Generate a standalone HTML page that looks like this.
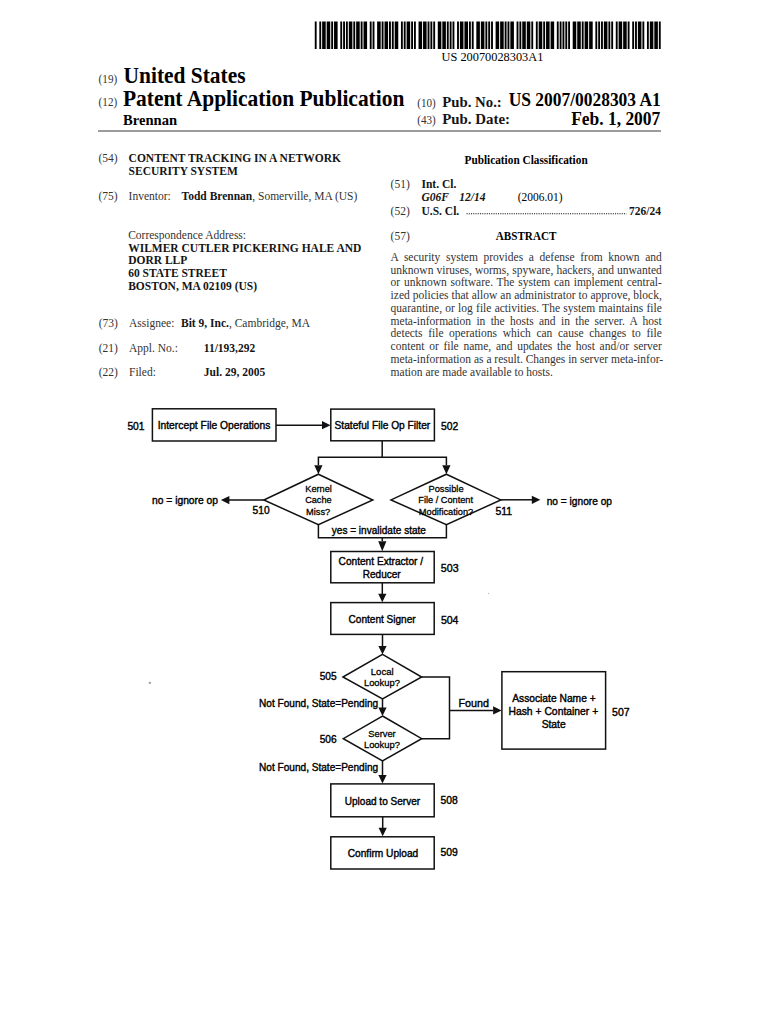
<!DOCTYPE html>
<html><head><meta charset="utf-8"><title>US 2007/0028303 A1</title>
<style>
html,body{margin:0;padding:0;background:#fff;}
body{width:770px;height:1024px;position:relative;overflow:hidden;}
svg{position:absolute;left:0;top:0;}
.al{position:absolute;left:390.6px;width:271.2px;font-family:"Liberation Serif",serif;font-size:11.5px;line-height:14px;white-space:nowrap;text-align:justify;text-align-last:justify;color:#333;}
.al.last{text-align:left;text-align-last:left;}
</style></head><body>
<svg width="770" height="1024" viewBox="0 0 770 1024">
<path d="M314.77,21.5h1.87v27.5h-1.87zM319.31,21.5h1.87v27.5h-1.87zM322.14,21.5h3.57v27.5h-3.57zM326.68,21.5h3.57v27.5h-3.57zM331.21,21.5h1.87v27.5h-1.87zM334.05,21.5h3.57v27.5h-3.57zM340.28,21.5h1.87v27.5h-1.87zM343.12,21.5h1.87v27.5h-1.87zM345.95,21.5h1.87v27.5h-1.87zM348.79,21.5h3.57v27.5h-3.57zM353.32,21.5h1.87v27.5h-1.87zM356.16,21.5h3.57v27.5h-3.57zM360.69,21.5h1.87v27.5h-1.87zM363.52,21.5h3.57v27.5h-3.57zM369.76,21.5h1.87v27.5h-1.87zM372.59,21.5h1.87v27.5h-1.87zM377.13,21.5h3.57v27.5h-3.57zM381.66,21.5h1.87v27.5h-1.87zM384.50,21.5h3.57v27.5h-3.57zM389.03,21.5h1.87v27.5h-1.87zM391.87,21.5h1.87v27.5h-1.87zM394.70,21.5h3.57v27.5h-3.57zM400.94,21.5h1.87v27.5h-1.87zM403.77,21.5h1.87v27.5h-1.87zM406.61,21.5h3.57v27.5h-3.57zM411.14,21.5h1.87v27.5h-1.87zM413.98,21.5h1.87v27.5h-1.87zM418.51,21.5h3.57v27.5h-3.57zM423.04,21.5h3.57v27.5h-3.57zM427.58,21.5h1.87v27.5h-1.87zM430.41,21.5h1.87v27.5h-1.87zM433.25,21.5h1.87v27.5h-1.87zM437.78,21.5h3.57v27.5h-3.57zM442.32,21.5h3.57v27.5h-3.57zM446.85,21.5h1.87v27.5h-1.87zM449.69,21.5h1.87v27.5h-1.87zM452.52,21.5h1.87v27.5h-1.87zM457.06,21.5h1.87v27.5h-1.87zM459.89,21.5h3.57v27.5h-3.57zM464.43,21.5h3.57v27.5h-3.57zM468.96,21.5h1.87v27.5h-1.87zM471.79,21.5h1.87v27.5h-1.87zM476.33,21.5h3.57v27.5h-3.57zM480.86,21.5h3.57v27.5h-3.57zM485.40,21.5h1.87v27.5h-1.87zM488.23,21.5h1.87v27.5h-1.87zM491.07,21.5h1.87v27.5h-1.87zM495.60,21.5h3.57v27.5h-3.57zM500.14,21.5h3.57v27.5h-3.57zM504.67,21.5h1.87v27.5h-1.87zM507.51,21.5h1.87v27.5h-1.87zM510.34,21.5h3.57v27.5h-3.57zM516.58,21.5h1.87v27.5h-1.87zM519.41,21.5h1.87v27.5h-1.87zM522.25,21.5h3.57v27.5h-3.57zM526.78,21.5h3.57v27.5h-3.57zM531.31,21.5h1.87v27.5h-1.87zM535.85,21.5h1.87v27.5h-1.87zM538.68,21.5h3.57v27.5h-3.57zM543.22,21.5h1.87v27.5h-1.87zM546.05,21.5h3.57v27.5h-3.57zM550.59,21.5h3.57v27.5h-3.57zM556.82,21.5h1.87v27.5h-1.87zM559.66,21.5h1.87v27.5h-1.87zM562.49,21.5h1.87v27.5h-1.87zM565.33,21.5h1.87v27.5h-1.87zM568.16,21.5h1.87v27.5h-1.87zM572.70,21.5h3.57v27.5h-3.57zM577.23,21.5h3.57v27.5h-3.57zM581.77,21.5h1.87v27.5h-1.87zM584.60,21.5h3.57v27.5h-3.57zM589.13,21.5h3.57v27.5h-3.57zM595.37,21.5h1.87v27.5h-1.87zM598.20,21.5h1.87v27.5h-1.87zM601.04,21.5h1.87v27.5h-1.87zM603.87,21.5h3.57v27.5h-3.57zM608.41,21.5h1.87v27.5h-1.87zM611.24,21.5h1.87v27.5h-1.87zM615.78,21.5h1.87v27.5h-1.87zM618.61,21.5h3.57v27.5h-3.57zM623.15,21.5h3.57v27.5h-3.57zM627.68,21.5h1.87v27.5h-1.87zM632.22,21.5h1.87v27.5h-1.87zM635.05,21.5h1.87v27.5h-1.87zM637.88,21.5h3.57v27.5h-3.57zM642.42,21.5h1.87v27.5h-1.87zM646.95,21.5h1.87v27.5h-1.87zM649.79,21.5h3.57v27.5h-3.57zM654.32,21.5h3.57v27.5h-3.57zM658.86,21.5h1.87v27.5h-1.87z" fill="#000"/>
<text x="441.55" y="60.6" font-size="12.8" font-family='"Liberation Serif", serif' textLength="101.79" lengthAdjust="spacingAndGlyphs">US 20070028303A1</text>
<text x="98.6" y="83.3" font-size="11.5" font-family='"Liberation Serif", serif' textLength="18.6" lengthAdjust="spacingAndGlyphs" fill="#333">(19)</text>
<text x="123.56" y="82.9" font-size="22.2" font-family='"Liberation Serif", serif' font-weight="bold" textLength="121.96" lengthAdjust="spacingAndGlyphs">United States</text>
<text x="98.6" y="106.4" font-size="11.5" font-family='"Liberation Serif", serif' textLength="18.6" lengthAdjust="spacingAndGlyphs" fill="#333">(12)</text>
<text x="122.92" y="106.4" font-size="22.4" font-family='"Liberation Serif", serif' font-weight="bold" textLength="281.50" lengthAdjust="spacingAndGlyphs">Patent Application Publication</text>
<text x="123.05" y="124.6" font-size="14.9" font-family='"Liberation Serif", serif' font-weight="bold" textLength="53.98" lengthAdjust="spacingAndGlyphs">Brennan</text>
<text x="417.3" y="106.5" font-size="11.5" font-family='"Liberation Serif", serif' textLength="18.5" lengthAdjust="spacingAndGlyphs" fill="#333">(10)</text>
<text x="442.2" y="106.5" font-size="14.8" font-family='"Liberation Serif", serif' font-weight="bold" textLength="59.6" lengthAdjust="spacingAndGlyphs" fill="#151515">Pub. No.:</text>
<text x="508.76" y="106.4" font-size="19" font-family='"Liberation Serif", serif' font-weight="bold" textLength="151.96" lengthAdjust="spacingAndGlyphs">US 2007/0028303 A1</text>
<text x="417.3" y="124.1" font-size="11.5" font-family='"Liberation Serif", serif' textLength="18.5" lengthAdjust="spacingAndGlyphs" fill="#333">(43)</text>
<text x="442.2" y="124.1" font-size="14.8" font-family='"Liberation Serif", serif' font-weight="bold" textLength="67.8" lengthAdjust="spacingAndGlyphs" fill="#151515">Pub. Date:</text>
<text x="571.20" y="124.8" font-size="18.6" font-family='"Liberation Serif", serif' font-weight="bold" textLength="89.06" lengthAdjust="spacingAndGlyphs">Feb. 1, 2007</text>
<rect x="98" y="130" width="563" height="2" fill="#9c9c9c"/>
<text x="98.4" y="162.2" font-size="11.5" font-family='"Liberation Serif", serif' fill="#333">(54)</text>
<text x="128.6" y="162.2" font-size="11.5" font-family='"Liberation Serif", serif' font-weight="bold" fill="#151515">CONTENT TRACKING IN A NETWORK</text>
<text x="128.6" y="174.8" font-size="11.5" font-family='"Liberation Serif", serif' font-weight="bold" fill="#151515">SECURITY SYSTEM</text>
<text x="98.4" y="200.2" font-size="11.5" font-family='"Liberation Serif", serif' fill="#333">(75)</text>
<text x="128.6" y="200.2" font-size="11.5" font-family='"Liberation Serif", serif' fill="#333">Inventor:</text>
<text x="181.6" y="200.2" font-size="11.5" font-family='"Liberation Serif", serif' fill="#333"><tspan font-weight="bold" fill="#151515">Todd Brennan</tspan>, Somerville, MA (US)</text>
<text x="128.2" y="238.9" font-size="11.5" font-family='"Liberation Serif", serif' fill="#333">Correspondence Address:</text>
<text x="128.2" y="251.6" font-size="11.5" font-family='"Liberation Serif", serif' font-weight="bold" fill="#151515">WILMER CUTLER PICKERING HALE AND</text>
<text x="128.2" y="264.1" font-size="11.5" font-family='"Liberation Serif", serif' font-weight="bold" fill="#151515">DORR LLP</text>
<text x="128.2" y="277.0" font-size="11.5" font-family='"Liberation Serif", serif' font-weight="bold" fill="#151515">60 STATE STREET</text>
<text x="128.2" y="289.8" font-size="11.5" font-family='"Liberation Serif", serif' font-weight="bold" fill="#151515">BOSTON, MA 02109 (US)</text>
<text x="98.7" y="327.1" font-size="11.5" font-family='"Liberation Serif", serif' fill="#333">(73)</text>
<text x="129" y="327.1" font-size="11.5" font-family='"Liberation Serif", serif' fill="#333">Assignee:</text>
<text x="181" y="327.1" font-size="11.5" font-family='"Liberation Serif", serif' fill="#333"><tspan font-weight="bold" fill="#151515">Bit 9, Inc.</tspan>, Cambridge, MA</text>
<text x="98.7" y="352.1" font-size="11.5" font-family='"Liberation Serif", serif' fill="#333">(21)</text>
<text x="129" y="352.1" font-size="11.5" font-family='"Liberation Serif", serif' fill="#333">Appl. No.:</text>
<text x="203.8" y="352.1" font-size="11.5" font-family='"Liberation Serif", serif' font-weight="bold" fill="#151515">11/193,292</text>
<text x="98.7" y="376.4" font-size="11.5" font-family='"Liberation Serif", serif' fill="#333">(22)</text>
<text x="129" y="376.4" font-size="11.5" font-family='"Liberation Serif", serif' fill="#333">Filed:</text>
<text x="203.8" y="376.4" font-size="11.5" font-family='"Liberation Serif", serif' font-weight="bold" fill="#151515">Jul. 29, 2005</text>
<text x="464.50" y="163.8" font-size="11.5" font-family='"Liberation Serif", serif' font-weight="bold" textLength="123.17" lengthAdjust="spacingAndGlyphs">Publication Classification</text>
<text x="390.6" y="188.3" font-size="11.5" font-family='"Liberation Serif", serif' fill="#333">(51)</text>
<text x="421.5" y="188.2" font-size="11.5" font-family='"Liberation Serif", serif' font-weight="bold" fill="#151515">Int. Cl.</text>
<text x="421.5" y="200.8" font-size="11.5" font-family='"Liberation Serif", serif' font-weight="bold" font-style="italic" fill="#151515">G06F</text>
<text x="459.2" y="200.8" font-size="11.5" font-family='"Liberation Serif", serif' font-weight="bold" font-style="italic" fill="#151515">12/14</text>
<text x="517.79" y="200.8" font-size="11.5" font-family='"Liberation Serif", serif' textLength="44.81" lengthAdjust="spacingAndGlyphs">(2006.01)</text>
<text x="390.6" y="214.9" font-size="11.5" font-family='"Liberation Serif", serif' fill="#333">(52)</text>
<text x="421.5" y="214.9" font-size="11.5" font-family='"Liberation Serif", serif' font-weight="bold" fill="#151515">U.S. Cl.</text>
<path d="M466.5,213.8 H626.5" stroke="#111" stroke-width="1.1" stroke-dasharray="1.1 1.15" fill="none"/>
<text x="661" y="214.9" font-size="11.5" font-family='"Liberation Serif", serif' font-weight="bold" text-anchor="end" fill="#151515">726/24</text>
<text x="390.6" y="240" font-size="11.5" font-family='"Liberation Serif", serif' fill="#333">(57)</text>
<text x="495.79" y="240" font-size="11.5" font-family='"Liberation Serif", serif' font-weight="bold" textLength="60.66" lengthAdjust="spacingAndGlyphs">ABSTRACT</text>
<rect x="148.8" y="681.8" width="2" height="2" fill="#999"/>
<rect x="487.9" y="592.9" width="1.2" height="1.2" fill="#bbb"/>
<rect x="152.4" y="408.8" width="123.6" height="32.19999999999999" fill="none" stroke="#111" stroke-width="1.5"/>
<text x="127.39" y="429.9" font-size="10.8" font-family='"Liberation Sans", sans-serif' textLength="17.11" lengthAdjust="spacingAndGlyphs" stroke="#000" stroke-width="0.4">501</text>
<text x="157.65" y="429.0" font-size="10.8" font-family='"Liberation Sans", sans-serif' textLength="112.81" lengthAdjust="spacingAndGlyphs" stroke="#000" stroke-width="0.4">Intercept File Operations</text>
<path d="M276,425.2 L323,425.2" fill="none" stroke="#111" stroke-width="1.5"/>
<path d="M330.5,425.2 L322.0,421.09999999999997 L322.0,429.3 Z" fill="#111" stroke="none"/>
<rect x="330.8" y="409.1" width="103.59999999999997" height="31.69999999999999" fill="none" stroke="#111" stroke-width="1.5"/>
<text x="334.54" y="429.2" font-size="10.8" font-family='"Liberation Sans", sans-serif' textLength="95.71" lengthAdjust="spacingAndGlyphs" stroke="#000" stroke-width="0.4">Stateful File Op Filter</text>
<text x="440.99" y="429.9" font-size="10.8" font-family='"Liberation Sans", sans-serif' textLength="17.24" lengthAdjust="spacingAndGlyphs" stroke="#000" stroke-width="0.4">502</text>
<path d="M382.2,441 L382.2,457" fill="none" stroke="#111" stroke-width="1.5"/>
<path d="M318.4,465 L318.4,457.3 L446.4,457.3 L446.4,465" fill="none" stroke="#111" stroke-width="1.5"/>
<path d="M318.4,474.2 L314.29999999999995,465.2 L322.5,465.2 Z" fill="#111" stroke="none"/>
<path d="M446.4,474.2 L442.29999999999995,465.2 L450.5,465.2 Z" fill="#111" stroke="none"/>
<path d="M318.4,474.2 L372.8,500.0 L318.4,524.6 L263.8,500.0 Z" fill="none" stroke="#111" stroke-width="1.5" stroke-linejoin="miter"/>
<text x="305.24" y="491.9" font-size="9.9" font-family='"Liberation Sans", sans-serif' textLength="26.69" lengthAdjust="spacingAndGlyphs" stroke="#000" stroke-width="0.3">Kernel</text>
<text x="305.14" y="503.3" font-size="9.9" font-family='"Liberation Sans", sans-serif' textLength="26.45" lengthAdjust="spacingAndGlyphs" stroke="#000" stroke-width="0.3">Cache</text>
<text x="306.04" y="514.6" font-size="9.9" font-family='"Liberation Sans", sans-serif' textLength="24.20" lengthAdjust="spacingAndGlyphs" stroke="#000" stroke-width="0.3">Miss?</text>
<path d="M263.8,500.1 L229,500.1" fill="none" stroke="#111" stroke-width="1.5"/>
<path d="M220.9,500.1 L229.4,496.0 L229.4,504.20000000000005 Z" fill="#111" stroke="none"/>
<text x="152.01" y="503.5" font-size="10.8" font-family='"Liberation Sans", sans-serif' textLength="66.03" lengthAdjust="spacingAndGlyphs" stroke="#000" stroke-width="0.4">no = ignore op</text>
<text x="252.59" y="514.2" font-size="10.8" font-family='"Liberation Sans", sans-serif' textLength="17.00" lengthAdjust="spacingAndGlyphs" stroke="#000" stroke-width="0.4">510</text>
<path d="M446.4,474.2 L500.8,499.9 L446.4,524.7 L391,499.9 Z" fill="none" stroke="#111" stroke-width="1.5" stroke-linejoin="miter"/>
<text x="428.43" y="491.8" font-size="9.9" font-family='"Liberation Sans", sans-serif' textLength="35.19" lengthAdjust="spacingAndGlyphs" stroke="#000" stroke-width="0.3">Possible</text>
<text x="418.34" y="503.2" font-size="9.9" font-family='"Liberation Sans", sans-serif' textLength="54.63" lengthAdjust="spacingAndGlyphs" stroke="#000" stroke-width="0.3">File / Content</text>
<text x="418.84" y="514.6" font-size="9.9" font-family='"Liberation Sans", sans-serif' textLength="54.41" lengthAdjust="spacingAndGlyphs" stroke="#000" stroke-width="0.3">Modification?</text>
<path d="M500.8,499.8 L532,499.8" fill="none" stroke="#111" stroke-width="1.5"/>
<path d="M540.3,499.8 L531.8,495.7 L531.8,503.90000000000003 Z" fill="#111" stroke="none"/>
<text x="546.71" y="504.9" font-size="10.8" font-family='"Liberation Sans", sans-serif' textLength="65.31" lengthAdjust="spacingAndGlyphs" stroke="#000" stroke-width="0.4">no = ignore op</text>
<text x="495.48" y="514.7" font-size="10.8" font-family='"Liberation Sans", sans-serif' textLength="16.63" lengthAdjust="spacingAndGlyphs" stroke="#000" stroke-width="0.4">511</text>
<path d="M318.4,524.6 L318.4,537.8 L446.4,537.8 L446.4,524.7" fill="none" stroke="#111" stroke-width="1.5"/>
<text x="331.77" y="534.0" font-size="10.8" font-family='"Liberation Sans", sans-serif' textLength="94.17" lengthAdjust="spacingAndGlyphs" stroke="#000" stroke-width="0.4">yes = invalidate state</text>
<path d="M382.3,537.8 L382.3,541" fill="none" stroke="#111" stroke-width="1.5"/>
<path d="M382.3,551.2 L378.2,541.2 L386.40000000000003,541.2 Z" fill="#111" stroke="none"/>
<rect x="330.8" y="551.5" width="103.39999999999998" height="31.299999999999955" fill="none" stroke="#111" stroke-width="1.5"/>
<text x="338.59" y="565.1" font-size="10.8" font-family='"Liberation Sans", sans-serif' textLength="84.50" lengthAdjust="spacingAndGlyphs" stroke="#000" stroke-width="0.4">Content Extractor /</text>
<text x="362.77" y="577.5" font-size="10.8" font-family='"Liberation Sans", sans-serif' textLength="37.88" lengthAdjust="spacingAndGlyphs" stroke="#000" stroke-width="0.4">Reducer</text>
<text x="440.87" y="572.4" font-size="10.8" font-family='"Liberation Sans", sans-serif' textLength="17.79" lengthAdjust="spacingAndGlyphs" stroke="#000" stroke-width="0.4">503</text>
<path d="M382.3,582.8 L382.3,594" fill="none" stroke="#111" stroke-width="1.5"/>
<path d="M382.3,602.3 L378.2,593.8 L386.40000000000003,593.8 Z" fill="#111" stroke="none"/>
<rect x="330.8" y="602.6" width="103.39999999999998" height="31.799999999999955" fill="none" stroke="#111" stroke-width="1.5"/>
<text x="348.60" y="622.7" font-size="10.8" font-family='"Liberation Sans", sans-serif' textLength="67.06" lengthAdjust="spacingAndGlyphs" stroke="#000" stroke-width="0.4">Content Signer</text>
<text x="440.88" y="623.6" font-size="10.8" font-family='"Liberation Sans", sans-serif' textLength="17.62" lengthAdjust="spacingAndGlyphs" stroke="#000" stroke-width="0.4">504</text>
<path d="M382.5,634.4 L382.5,646" fill="none" stroke="#111" stroke-width="1.5"/>
<path d="M382.5,654.4 L378.4,645.9 L386.6,645.9 Z" fill="#111" stroke="none"/>
<path d="M382.5,654.4 L421.7,677 L382.5,699 L342.9,677 Z" fill="none" stroke="#111" stroke-width="1.5" stroke-linejoin="miter"/>
<text x="370.81" y="674.7" font-size="9.9" font-family='"Liberation Sans", sans-serif' textLength="22.84" lengthAdjust="spacingAndGlyphs" stroke="#000" stroke-width="0.3">Local</text>
<text x="363.93" y="686.4" font-size="9.9" font-family='"Liberation Sans", sans-serif' textLength="36.02" lengthAdjust="spacingAndGlyphs" stroke="#000" stroke-width="0.3">Lookup?</text>
<text x="319.69" y="680.2" font-size="10.8" font-family='"Liberation Sans", sans-serif' textLength="16.92" lengthAdjust="spacingAndGlyphs" stroke="#000" stroke-width="0.4">505</text>
<path d="M421.7,677 L449.5,677 L449.5,738.7 L421.7,738.7" fill="none" stroke="#111" stroke-width="1.5"/>
<path d="M449.5,710.4 L493,710.4" fill="none" stroke="#111" stroke-width="1.5"/>
<path d="M501.6,710.4 L493.1,706.3 L493.1,714.5 Z" fill="#111" stroke="none"/>
<text x="458.51" y="707.2" font-size="10.8" font-family='"Liberation Sans", sans-serif' textLength="30.46" lengthAdjust="spacingAndGlyphs" stroke="#000" stroke-width="0.4">Found</text>
<rect x="501.9" y="671.7" width="103.70000000000005" height="77.39999999999998" fill="none" stroke="#111" stroke-width="1.5"/>
<text x="512.17" y="701.8" font-size="10.8" font-family='"Liberation Sans", sans-serif' textLength="83.52" lengthAdjust="spacingAndGlyphs" stroke="#000" stroke-width="0.4">Associate Name +</text>
<text x="508.45" y="715.1" font-size="10.8" font-family='"Liberation Sans", sans-serif' textLength="89.77" lengthAdjust="spacingAndGlyphs" stroke="#000" stroke-width="0.4">Hash + Container +</text>
<text x="541.64" y="727.5" font-size="10.8" font-family='"Liberation Sans", sans-serif' textLength="24.10" lengthAdjust="spacingAndGlyphs" stroke="#000" stroke-width="0.4">State</text>
<text x="612.08" y="715.9" font-size="10.8" font-family='"Liberation Sans", sans-serif' textLength="17.45" lengthAdjust="spacingAndGlyphs" stroke="#000" stroke-width="0.4">507</text>
<path d="M382.5,699 L382.5,708" fill="none" stroke="#111" stroke-width="1.5"/>
<path d="M382.5,716 L378.4,707.5 L386.6,707.5 Z" fill="#111" stroke="none"/>
<text x="259.07" y="707.1" font-size="10.8" font-family='"Liberation Sans", sans-serif' textLength="119.08" lengthAdjust="spacingAndGlyphs" stroke="#000" stroke-width="0.4">Not Found, State=Pending</text>
<path d="M382.5,716 L421.7,738.7 L382.5,760.8 L343.3,738.7 Z" fill="none" stroke="#111" stroke-width="1.5" stroke-linejoin="miter"/>
<text x="368.28" y="737.0" font-size="9.9" font-family='"Liberation Sans", sans-serif' textLength="27.46" lengthAdjust="spacingAndGlyphs" stroke="#000" stroke-width="0.3">Server</text>
<text x="363.93" y="748.4" font-size="9.9" font-family='"Liberation Sans", sans-serif' textLength="36.02" lengthAdjust="spacingAndGlyphs" stroke="#000" stroke-width="0.3">Lookup?</text>
<text x="319.69" y="742.5" font-size="10.8" font-family='"Liberation Sans", sans-serif' textLength="16.95" lengthAdjust="spacingAndGlyphs" stroke="#000" stroke-width="0.4">506</text>
<path d="M382.5,760.8 L382.5,775" fill="none" stroke="#111" stroke-width="1.5"/>
<path d="M382.5,783.6 L378.4,775.1 L386.6,775.1 Z" fill="#111" stroke="none"/>
<text x="259.07" y="771.2" font-size="10.8" font-family='"Liberation Sans", sans-serif' textLength="119.08" lengthAdjust="spacingAndGlyphs" stroke="#000" stroke-width="0.4">Not Found, State=Pending</text>
<rect x="330.8" y="783.9" width="103.39999999999998" height="32.89999999999998" fill="none" stroke="#111" stroke-width="1.5"/>
<text x="344.72" y="804.6" font-size="10.8" font-family='"Liberation Sans", sans-serif' textLength="75.45" lengthAdjust="spacingAndGlyphs" stroke="#000" stroke-width="0.4">Upload to Server</text>
<text x="440.49" y="804.1" font-size="10.8" font-family='"Liberation Sans", sans-serif' textLength="17.26" lengthAdjust="spacingAndGlyphs" stroke="#000" stroke-width="0.4">508</text>
<path d="M382.7,816.8 L382.7,828" fill="none" stroke="#111" stroke-width="1.5"/>
<path d="M382.7,836.3 L378.59999999999997,827.8 L386.8,827.8 Z" fill="#111" stroke="none"/>
<rect x="330.8" y="836.8" width="103.39999999999998" height="32.200000000000045" fill="none" stroke="#111" stroke-width="1.5"/>
<text x="347.69" y="857.4" font-size="10.8" font-family='"Liberation Sans", sans-serif' textLength="70.54" lengthAdjust="spacingAndGlyphs" stroke="#000" stroke-width="0.4">Confirm Upload</text>
<text x="440.49" y="856.3" font-size="10.8" font-family='"Liberation Sans", sans-serif' textLength="17.29" lengthAdjust="spacingAndGlyphs" stroke="#000" stroke-width="0.4">509</text>
</svg>
<div class="al" style="top:249.82px">A security system provides a defense from known and</div>
<div class="al" style="top:262.59px">unknown viruses, worms, spyware, hackers, and unwanted</div>
<div class="al" style="top:275.36px">or unknown software. The system can implement central-</div>
<div class="al" style="top:288.13px">ized policies that allow an administrator to approve, block,</div>
<div class="al" style="top:300.90px">quarantine, or log file activities. The system maintains file</div>
<div class="al" style="top:313.67px">meta-information in the hosts and in the server. A host</div>
<div class="al" style="top:326.44px">detects file operations which can cause changes to file</div>
<div class="al" style="top:339.21px">content or file name, and updates the host and/or server</div>
<div class="al" style="top:351.98px">meta-information as a result. Changes in server meta-infor-</div>
<div class="al last" style="top:364.75px">mation are made available to hosts.</div>
</body></html>
